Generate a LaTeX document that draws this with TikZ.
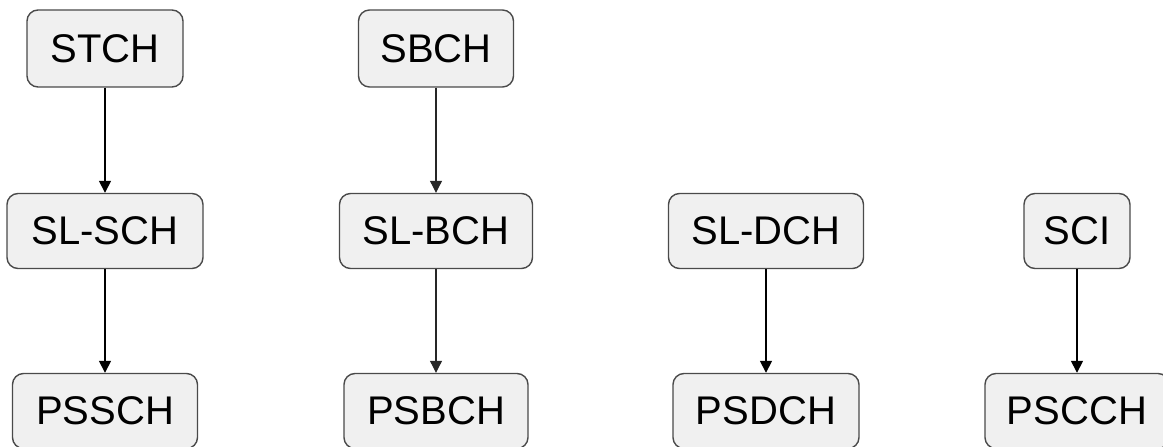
\documentclass[tikz,border=0pt]{standalone}
\usepackage{fontspec}
\setmainfont{Liberation Sans}
\usetikzlibrary{arrows.meta}
\definecolor{boxfill}{HTML}{F0F0F0}
\definecolor{boxline}{HTML}{4A4A4A}
\tikzset{
  chbox/.style={draw=boxline, line width=1.4pt, fill=boxfill, rounded corners=11pt,
    inner sep=0pt, minimum height=75pt, font=\fontsize{40}{48}\selectfont},
  link/.style={-{Triangle[length=12pt,width=12pt]}, line width=1.6pt, black},
  thinlink/.style={-{Triangle[length=12pt,width=12pt]}, line width=1.1pt, black!85}
}
\begin{document}
\begin{tikzpicture}[x=1pt,y=1pt]
\useasboundingbox (0,0) rectangle (1163,447);
\fill[white] (0,0) rectangle (1163,447);
% top row
\node[chbox, minimum width=156pt, minimum height=77pt] (stch) at (105,398.5) {STCH};
\node[chbox, minimum width=155pt, minimum height=77pt] (sbch) at (436,398.5) {SBCH};
% middle row
\node[chbox, minimum width=196pt] (slsch) at (105,216) {SL-SCH};
\node[chbox, minimum width=193pt] (slbch) at (436,216) {SL-BCH};
\node[chbox, minimum width=195pt] (sldch) at (766,216) {SL-DCH};
\node[chbox, minimum width=106pt] (sci) at (1077,216) {SCI};
% bottom row
\node[chbox, minimum width=185pt] (pssch) at (105,36) {PSSCH};
\node[chbox, minimum width=184pt] (psbch) at (436,36) {PSBCH};
\node[chbox, minimum width=186pt] (psdch) at (766,36) {PSDCH};
\node[chbox, minimum width=184pt] (pscch) at (1077,36) {PSCCH};
% connectors
\draw[link] (stch) -- (slsch);
\draw[link] (slsch) -- (pssch);
\draw[thinlink] (sbch) -- (slbch);
\draw[thinlink] (slbch) -- (psbch);
\draw[link] (sldch) -- (psdch);
\draw[link] (sci) -- (pscch);
\end{tikzpicture}
\end{document}
